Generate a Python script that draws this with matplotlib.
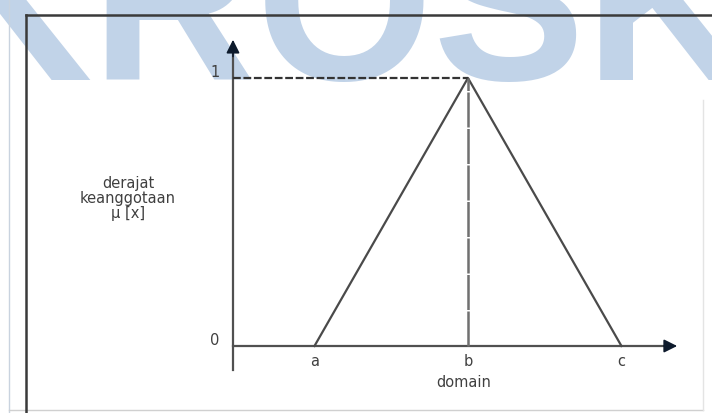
import matplotlib
matplotlib.use('Agg')
import matplotlib.pyplot as plt

# fungsi keanggotaan segitiga
titik = ['a', 'b', 'c']
domain_x = [1.0, 2.0, 3.0]
derajat_mu = [0.0, 1.0, 0.0]
label_y = ['0', '1']
nilai_y = [0.0, 1.0]

W, H = 712, 413
fig = plt.figure(figsize=(W / 100, H / 100), dpi=100)
fig.patch.set_facecolor('white')

# tanda air di belakang gambar
fig.text(-72 / W, 1 - 80 / H, 'KROSK', family='Liberation Sans', weight='bold',
         fontsize=164, color='#c1d3e8', ha='left', va='baseline', zorder=0)

ax = fig.add_axes([0, 0, 1, 1])
ax.set_zorder(2)
ax.set_facecolor('none')
ax.set_xlim(-1.049, 3.590)
ax.set_ylim(-0.25, 1.291)
ax.axis('off')

# bingkai luar
fig.add_artist(plt.Line2D([9 / W, 9 / W], [0, 1], transform=fig.transFigure, color='#c9d3df', lw=1))
fig.add_artist(plt.Line2D([9 / W, 703 / W], [1 - 410 / H, 1 - 410 / H], transform=fig.transFigure, color='#d0d0d0', lw=1))
fig.add_artist(plt.Line2D([703 / W, 703 / W], [1 - 410 / H, 1 - 100 / H], transform=fig.transFigure, color='#e4e4e4', lw=1))
fig.add_artist(plt.Line2D([26 / W, 1], [1 - 15 / H, 1 - 15 / H], transform=fig.transFigure, color='#3a3a3a', lw=1.8, zorder=3))
fig.add_artist(plt.Line2D([26 / W, 26 / W], [0, 1 - 15 / H], transform=fig.transFigure, color='#3a3a3a', lw=1.8, zorder=3))

x0 = 0.469
gray = '#505050'

# sumbu
ax.plot([x0, x0], [-0.09, 1.10], color=gray, lw=1.6, zorder=3)
ax.plot([x0, 3.30], [0, 0], color=gray, lw=1.6, zorder=3)
ax.annotate('', xy=(x0, 1.153), xytext=(x0, 1.07),
            arrowprops=dict(arrowstyle='-|>', mutation_scale=20, color='#0d1a2c', lw=1.2))
ax.annotate('', xy=(3.381, 0), xytext=(3.26, 0),
            arrowprops=dict(arrowstyle='-|>', mutation_scale=20, color='#0d1a2c', lw=1.2))

# segitiga
ax.plot(domain_x, derajat_mu, color='#4a4a4a', lw=1.6, zorder=4)

# garis bantu putus-putus
ax.plot([x0, domain_x[1]], [derajat_mu[1], derajat_mu[1]], color='#333333', lw=1.6,
        dashes=(3.5, 1.2), zorder=4)
ax.plot([domain_x[1], domain_x[1]], [0, derajat_mu[1]], color='#707070', lw=1.8,
        dashes=(14, 0.6), zorder=4)

txt = dict(color='#404040', fontsize=10.5, family='DejaVu Sans')
for lbl, v in zip(label_y, nilai_y):
    ax.text(x0 - 0.12, v + 0.02, lbl, ha='center', va='center', **txt)
for lbl, xv in zip(titik, domain_x):
    ax.text(xv, -0.058, lbl, ha='center', va='center', **txt)
ax.text(1.97, -0.135, 'domain', ha='center', va='center', **txt)
ax.text(-0.215, 0.549, 'derajat\nkeanggotaan\n\u00b5 [x]', ha='center', va='center',
        linespacing=1.0, **txt)

fig.savefig('out.png', dpi=100)
